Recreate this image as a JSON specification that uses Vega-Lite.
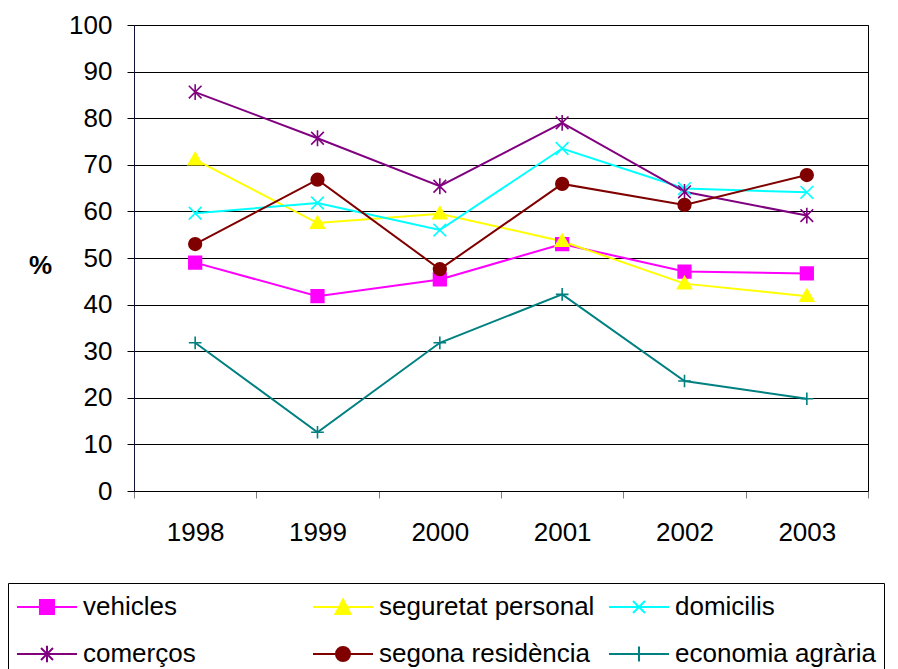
{
  "$schema": "https://vega.github.io/schema/vega-lite/v6.json",
  "width": 734,
  "height": 466,
  "autosize": "none",
  "padding": {"left": 134, "top": 25, "right": 30, "bottom": 178},
  "background": "white",
  "config": {
    "font": "Liberation Sans",
    "view": {"stroke": "black", "strokeWidth": 1},
    "axis": {"labelFont": "Liberation Sans", "labelFontSize": 26, "labelColor": "black", "titleFont": "Liberation Sans"},
    "legend": {"labelFont": "Liberation Sans"}
  },
  "data": {
    "values": [
      {"year": "1998", "series": "vehicles", "value": 49.0},
      {"year": "1999", "series": "vehicles", "value": 41.8},
      {"year": "2000", "series": "vehicles", "value": 45.4},
      {"year": "2001", "series": "vehicles", "value": 53.0},
      {"year": "2002", "series": "vehicles", "value": 47.1},
      {"year": "2003", "series": "vehicles", "value": 46.7},
      {"year": "1998", "series": "seguretat personal", "value": 71.1},
      {"year": "1999", "series": "seguretat personal", "value": 57.5},
      {"year": "2000", "series": "seguretat personal", "value": 59.5},
      {"year": "2001", "series": "seguretat personal", "value": 53.6},
      {"year": "2002", "series": "seguretat personal", "value": 44.5},
      {"year": "2003", "series": "seguretat personal", "value": 41.8},
      {"year": "1998", "series": "domicilis", "value": 59.6},
      {"year": "1999", "series": "domicilis", "value": 61.8},
      {"year": "2000", "series": "domicilis", "value": 56.0},
      {"year": "2001", "series": "domicilis", "value": 73.5},
      {"year": "2002", "series": "domicilis", "value": 64.9},
      {"year": "2003", "series": "domicilis", "value": 64.1},
      {"year": "1998", "series": "comerços", "value": 85.6},
      {"year": "1999", "series": "comerços", "value": 75.7},
      {"year": "2000", "series": "comerços", "value": 65.4},
      {"year": "2001", "series": "comerços", "value": 79.0},
      {"year": "2002", "series": "comerços", "value": 64.2},
      {"year": "2003", "series": "comerços", "value": 59.1},
      {"year": "1998", "series": "segona residència", "value": 53.0},
      {"year": "1999", "series": "segona residència", "value": 66.8},
      {"year": "2000", "series": "segona residència", "value": 47.6},
      {"year": "2001", "series": "segona residència", "value": 65.9},
      {"year": "2002", "series": "segona residència", "value": 61.4},
      {"year": "2003", "series": "segona residència", "value": 67.8},
      {"year": "1998", "series": "economia agrària", "value": 31.8},
      {"year": "1999", "series": "economia agrària", "value": 12.6},
      {"year": "2000", "series": "economia agrària", "value": 31.8},
      {"year": "2001", "series": "economia agrària", "value": 42.2},
      {"year": "2002", "series": "economia agrària", "value": 23.6},
      {"year": "2003", "series": "economia agrària", "value": 19.8}
    ]
  },
  "encoding": {
    "x": {
      "field": "year", "type": "nominal", "sort": null,
      "scale": {"paddingInner": 0, "paddingOuter": 0},
      "axis": {
        "title": null, "labelAngle": 0, "tickBand": "extent", "domainColor": "black",
        "tickColor": "#808080", "tickSize": 7, "labelPadding": 21, "grid": false
      }
    },
    "y": {
      "field": "value", "type": "quantitative",
      "scale": {"domain": [0, 100], "nice": false, "zero": true},
      "axis": {
        "title": "%", "values": [0, 10, 20, 30, 40, 50, 60, 70, 80, 90, 100],
        "titleAngle": 0, "titleFontSize": 26, "titleFontWeight": "bold", "titleColor": "black",
        "titleX": -94, "titleY": 240, "titleAlign": "center", "titleBaseline": "middle",
        "grid": true, "gridColor": "black", "gridWidth": 1, "gridOpacity": 1,
        "domainColor": "#10103a", "tickColor": "black", "tickSize": 7, "labelPadding": 15
      }
    },
    "color": {
      "field": "series", "type": "nominal",
      "scale": {
        "domain": ["vehicles", "seguretat personal", "domicilis", "comerços", "segona residència", "economia agrària"],
        "range": ["#FF00FF", "#FFFF00", "#00FFFF", "#800080", "#800000", "#008080"]
      },
      "legend": {
        "title": null, "orient": "none", "legendX": -126, "legendY": 558,
        "direction": "horizontal",
        "columns": 3, "gridAlign": "all", "columnPadding": 10, "rowPadding": 18,
        "padding": 8, "strokeColor": "black", "fillColor": "white",
        "labelFontSize": 26, "labelColor": "black", "labelOffset": 35, "labelLimit": 400,
        "symbolSize": 900, "symbolStrokeWidth": 2,
        "encode": {
          "symbols": {
            "update": {
              "shape": {"signal": "datum.value === 'vehicles' ? 'M-1,0H3M0.53,-0.47H1.47V0.47H0.53Z' : datum.value === 'seguretat personal' ? 'M-1,0H3M1,-0.5L1.5,0.47H0.5Z' : datum.value === 'domicilis' ? 'M-1,0H3M0.6,-0.4L1.4,0.4M0.6,0.4L1.4,-0.4' : datum.value === 'comerços' ? 'M-1,0H3M0.6,-0.4L1.4,0.4M0.6,0.4L1.4,-0.4M1,-0.55V0.55' : datum.value === 'segona residència' ? 'M-1,0H3M0.53,0A0.47,0.47,0,1,0,1.47,0A0.47,0.47,0,1,0,0.53,0Z' : 'M-1,0H3M0.6,0H1.4M1,-0.5V0.5'"},
              "size": {"value": 900},
              "fill": {"scale": "color", "field": "value"},
              "stroke": {"scale": "color", "field": "value"},
              "strokeWidth": {"value": 2},
              "opacity": {"value": 1}
            }
          }
        }
      }
    }
  },
  "layer": [
    {
      "mark": {"type": "line", "strokeWidth": 2}
    },
    {
      "mark": {"type": "point", "filled": true, "opacity": 1, "strokeWidth": 1.6, "size": 160},
      "encoding": {
        "stroke": {
          "field": "series", "type": "nominal", "legend": null,
          "scale": {
            "domain": ["vehicles", "seguretat personal", "domicilis", "comerços", "segona residència", "economia agrària"],
            "range": ["#FF00FF", "#FFFF00", "#00FFFF", "#800080", "#800000", "#008080"]
          }
        },
        "shape": {
          "condition": [
            {"test": "datum.series === 'vehicles'", "value": "M-1,-1H1V1H-1Z"},
            {"test": "datum.series === 'seguretat personal'", "value": "M0,-1.1L1.1,0.8H-1.1Z"},
            {"test": "datum.series === 'domicilis'", "value": "M-1,-1L1,1M-1,1L1,-1"},
            {"test": "datum.series === 'comerços'", "value": "M-1,-1L1,1M-1,1L1,-1M0,-1.25V1.25"},
            {"test": "datum.series === 'segona residència'", "value": "M-1,0A1,1,0,1,0,1,0A1,1,0,1,0,-1,0Z"}
          ],
          "value": "M-1,0H1M0,-1V1"
        }
      }
    }
  ]
}
